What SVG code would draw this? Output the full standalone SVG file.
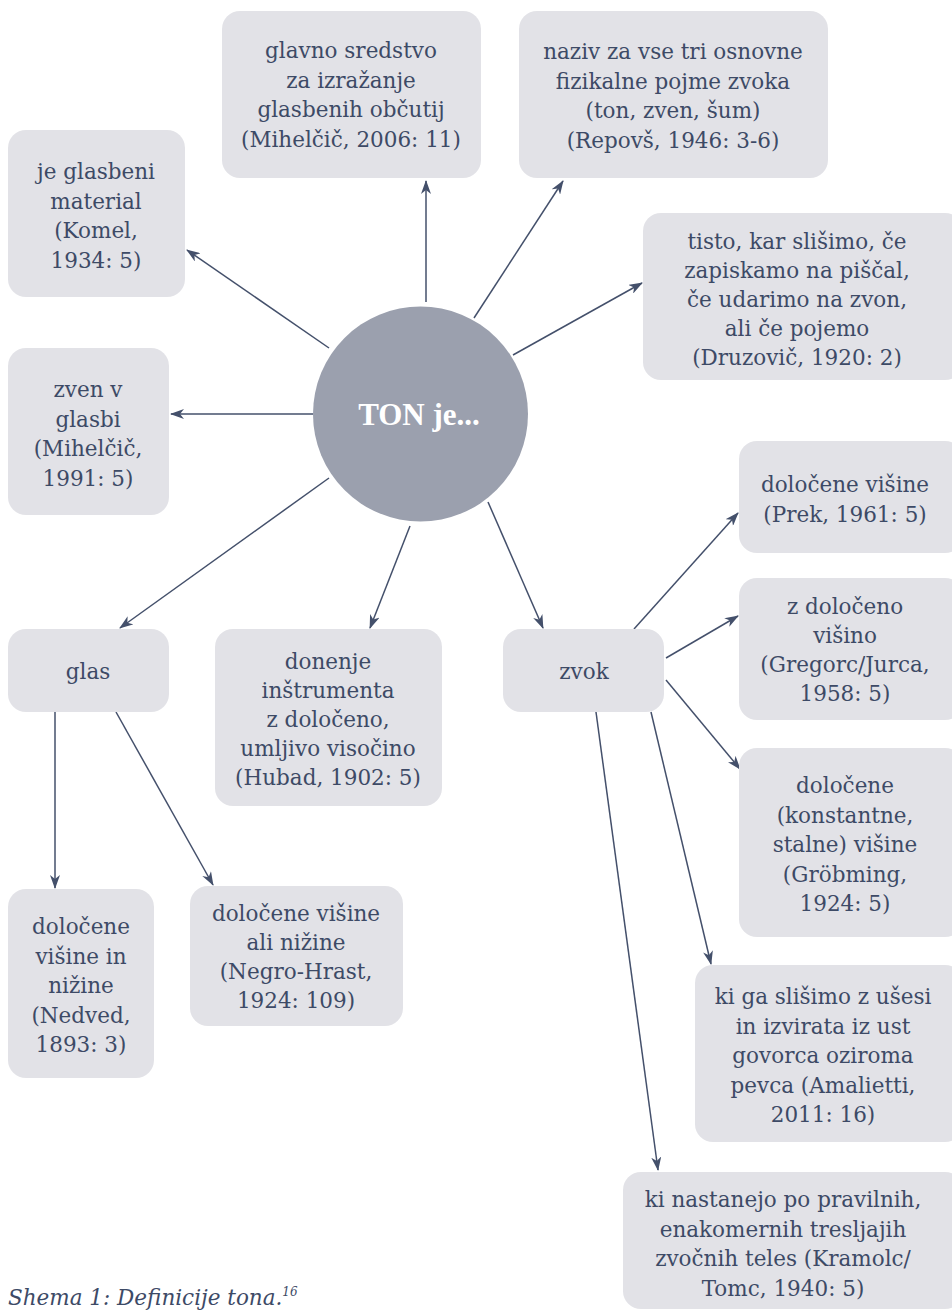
<svg xmlns="http://www.w3.org/2000/svg" width="952" height="1311" viewBox="0 0 952 1311">
<style>
.box{fill:#e2e2e7;}
.t{font-family:'DejaVu Serif',serif;font-size:21.5px;fill:#3d4a66;text-anchor:middle;}
.c{stroke:#44506b;stroke-width:1.5;fill:none;marker-end:url(#ah);}
.cap{font-family:'DejaVu Serif',serif;font-style:italic;font-size:21.5px;fill:#3d4a66;}
</style>
<defs>
<marker id="ah" viewBox="0 0 14 10" refX="13" refY="5" markerWidth="14" markerHeight="10" markerUnits="userSpaceOnUse" orient="auto">
<path d="M0,0 L14,5 L0,10 L4,5 Z" fill="#44506b"/>
</marker>
</defs>
<rect width="952" height="1311" fill="#ffffff"/>
<g id="connectors">
<line class="c" x1="426" y1="302" x2="426" y2="181"/>
<line class="c" x1="474" y1="318" x2="563" y2="181"/>
<line class="c" x1="329" y1="348" x2="187" y2="250"/>
<line class="c" x1="513" y1="355" x2="642" y2="283"/>
<line class="c" x1="313" y1="414" x2="171" y2="414"/>
<line class="c" x1="329" y1="478" x2="120" y2="628"/>
<line class="c" x1="410" y1="526" x2="370" y2="628"/>
<line class="c" x1="488" y1="502" x2="543" y2="628"/>
<line class="c" x1="634" y1="629" x2="738" y2="513"/>
<line class="c" x1="666" y1="658" x2="738" y2="616"/>
<line class="c" x1="666" y1="680" x2="740" y2="769"/>
<line class="c" x1="651" y1="712" x2="711" y2="964"/>
<line class="c" x1="596" y1="712" x2="658" y2="1170"/>
<line class="c" x1="55" y1="712" x2="55" y2="888"/>
<line class="c" x1="116" y1="712" x2="213" y2="885"/>
</g>
<g id="center">
<circle cx="420.5" cy="414" r="107.5" fill="#9ba0ae"/>
<text x="419" y="425" style="font-family:'Liberation Serif','Times New Roman',serif;font-size:31px;font-weight:bold;fill:#ffffff;text-anchor:middle;">TON je...</text>
</g>
<g id="n1">
<rect class="box" x="222" y="11" width="259" height="167" rx="18"/>
<text class="t"><tspan x="351" y="58">glavno sredstvo</tspan><tspan x="351" y="87.5">za izražanje</tspan><tspan x="351" y="117">glasbenih občutij</tspan><tspan x="351" y="146.5">(Mihelčič, 2006: 11)</tspan></text>
</g>
<g id="n2">
<rect class="box" x="519" y="11" width="309" height="167" rx="18"/>
<text class="t"><tspan x="673" y="59">naziv za vse tri osnovne</tspan><tspan x="673" y="88.5">fizikalne pojme zvoka</tspan><tspan x="673" y="118">(ton, zven, šum)</tspan><tspan x="673" y="147.5">(Repovš, 1946: 3-6)</tspan></text>
</g>
<g id="n3">
<rect class="box" x="8" y="130" width="177" height="167" rx="18"/>
<text class="t"><tspan x="96" y="179">je glasbeni</tspan><tspan x="96" y="208.5">material</tspan><tspan x="96" y="238">(Komel,</tspan><tspan x="96" y="267.5">1934: 5)</tspan></text>
</g>
<g id="n4">
<rect class="box" x="643" y="213" width="320" height="167" rx="18"/>
<text class="t"><tspan x="797" y="249">tisto, kar slišimo, če</tspan><tspan x="797" y="278">zapiskamo na piščal,</tspan><tspan x="797" y="307">če  udarimo na zvon,</tspan><tspan x="797" y="336">ali če pojemo</tspan><tspan x="797" y="365">(Druzovič, 1920: 2)</tspan></text>
</g>
<g id="n5">
<rect class="box" x="8" y="348" width="161" height="167" rx="18"/>
<text class="t"><tspan x="88" y="397">zven v</tspan><tspan x="88" y="426.5">glasbi</tspan><tspan x="88" y="456">(Mihelčič,</tspan><tspan x="88" y="485.5">1991: 5)</tspan></text>
</g>
<g id="n6">
<rect class="box" x="8" y="629" width="161" height="83" rx="18"/>
<text class="t" x="88" y="679">glas</text>
</g>
<g id="n7">
<rect class="box" x="215" y="629" width="227" height="177" rx="18"/>
<text class="t"><tspan x="328" y="669">donenje</tspan><tspan x="328" y="698">inštrumenta</tspan><tspan x="328" y="727">z določeno,</tspan><tspan x="328" y="756">umljivo visočino</tspan><tspan x="328" y="785">(Hubad, 1902: 5)</tspan></text>
</g>
<g id="n8">
<rect class="box" x="503" y="629" width="161" height="83" rx="18"/>
<text class="t" x="584" y="679">zvok</text>
</g>
<g id="n9">
<rect class="box" x="739" y="441" width="224" height="112" rx="18"/>
<text class="t"><tspan x="845" y="492">določene višine</tspan><tspan x="845" y="521.5">(Prek, 1961: 5)</tspan></text>
</g>
<g id="n10">
<rect class="box" x="739" y="578" width="224" height="142" rx="18"/>
<text class="t"><tspan x="845" y="614">z določeno</tspan><tspan x="845" y="643">višino</tspan><tspan x="845" y="672">(Gregorc/Jurca,</tspan><tspan x="845" y="701">1958: 5)</tspan></text>
</g>
<g id="n11">
<rect class="box" x="739" y="748" width="224" height="189" rx="18"/>
<text class="t"><tspan x="845" y="793">določene</tspan><tspan x="845" y="822.5">(konstantne,</tspan><tspan x="845" y="852">stalne) višine</tspan><tspan x="845" y="881.5">(Gröbming,</tspan><tspan x="845" y="911">1924: 5)</tspan></text>
</g>
<g id="n12">
<rect class="box" x="695" y="965" width="268" height="177" rx="18"/>
<text class="t"><tspan x="823" y="1004">ki ga slišimo z ušesi</tspan><tspan x="823" y="1033.5">in izvirata iz ust</tspan><tspan x="823" y="1063">govorca oziroma</tspan><tspan x="823" y="1092.5">pevca (Amalietti,</tspan><tspan x="823" y="1122">2011: 16)</tspan></text>
</g>
<g id="n13">
<rect class="box" x="623" y="1172" width="340" height="137" rx="18"/>
<text class="t"><tspan x="783" y="1207">ki nastanejo po pravilnih,</tspan><tspan x="783" y="1236.5">enakomernih tresljajih</tspan><tspan x="783" y="1266">zvočnih teles (Kramolc/</tspan><tspan x="783" y="1295.5">Tomc, 1940: 5)</tspan></text>
</g>
<g id="n14">
<rect class="box" x="8" y="889" width="146" height="189" rx="18"/>
<text class="t"><tspan x="81" y="934">določene</tspan><tspan x="81" y="963.5">višine in</tspan><tspan x="81" y="993">nižine</tspan><tspan x="81" y="1022.5">(Nedved,</tspan><tspan x="81" y="1052">1893: 3)</tspan></text>
</g>
<g id="n15">
<rect class="box" x="190" y="886" width="213" height="140" rx="18"/>
<text class="t"><tspan x="296" y="921">določene višine</tspan><tspan x="296" y="950">ali nižine</tspan><tspan x="296" y="979">(Negro-Hrast,</tspan><tspan x="296" y="1008">1924: 109)</tspan></text>
</g>
<text class="cap" x="8" y="1305">Shema 1: Definicije tona.<tspan dy="-9" font-size="12">16</tspan></text>
</svg>
